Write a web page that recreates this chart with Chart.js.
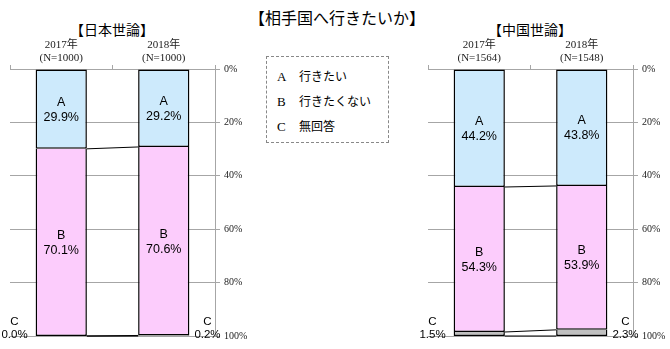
<!DOCTYPE html>
<html>
<head>
<meta charset="utf-8">
<script src="https://cdn.jsdelivr.net/npm/chart.js@4"></script>
<style>
  html, body { margin: 0; padding: 0; background: #fff; }
  body { width: 670px; height: 349px; position: relative; overflow: hidden;
         font-family: "Noto Sans CJK JP", sans-serif; color: #000; }
  .title { position: absolute; white-space: nowrap; transform: translate(-50%, -50%); line-height: 1; }
  .main { font-size: 16px; left: 337px; top: 17px; }
  .sub { font-size: 14px; top: 29px; }
  .box { position: absolute; left: 266px; top: 56px; width: 123px; height: 87px;
         border: 1px dashed #888; box-sizing: border-box; }
  .row { position: absolute; left: 10px; font-size: 12px; line-height: 1; white-space: nowrap; }
  .row b { font-family: "Liberation Serif", serif; font-weight: normal; font-size: 13px;
           display: inline-block; width: 22px; }
  canvas { position: absolute; top: 0; }
</style>
</head>
<body>
<div class="title main">【相手国へ行きたいか】</div>
<div class="title sub" style="left:112px">【日本世論】</div>
<div class="title sub" style="left:530px">【中国世論】</div>
<div class="box" id="legend"></div>
<canvas id="jp" style="left:0"></canvas>
<canvas id="cn" style="left:418px"></canvas>
<script>
// Survey years and sample sizes
const jpLabels = [['2017年', '(N=1000)'], ['2018年', '(N=1000)']];
const cnLabels = [['2017年', '(N=1564)'], ['2018年', '(N=1548)']];

// Answer codes and their meaning
const answerCodes = ['A', 'B', 'C'];
const answerNames = ['行きたい', '行きたくない', '無回答'];

// Japanese public opinion (%)
const jpWant = [29.9, 29.2];
const jpNotWant = [70.1, 70.6];
const jpNoAnswer = [0.0, 0.2];

// Chinese public opinion (%)
const cnWant = [44.2, 43.8];
const cnNotWant = [54.3, 53.9];
const cnNoAnswer = [1.5, 2.3];

// Percentage axis
const yMin = 0, yMax = 100, yStep = 20;

const fillColors = ['#cdeafc', '#fcccfc', '#c0c0c0'];
const gridGray = '#a6a6a6';
const serif = '"Liberation Serif", "Noto Sans CJK JP", serif';
const sans = '"Liberation Sans", Arial, sans-serif';

// legend box
const legend = document.getElementById('legend');
answerCodes.forEach((c, i) => {
  const r = document.createElement('div');
  r.className = 'row';
  r.style.top = (13 + i * 25) + 'px';
  r.innerHTML = '<b>' + c + '</b>' + answerNames[i];
  legend.appendChild(r);
});

// connector lines between neighbouring bars and value labels
const barDecor = {
  id: 'barDecor',
  afterDatasetsDraw(chart) {
    const ctx = chart.ctx;
    const ys = chart.scales.y;
    const sets = chart.data.datasets;
    const bars = chart.getDatasetMeta(0).data;
    const b0 = bars[0], b1 = bars[1];
    ctx.save();
    // connectors at each cumulative boundary
    ctx.strokeStyle = '#000';
    ctx.lineWidth = 1;
    let c0 = 0, c1 = 0;
    sets.forEach(ds => {
      c0 += ds.data[0]; c1 += ds.data[1];
      ctx.beginPath();
      ctx.moveTo(b0.x + b0.width / 2, ys.getPixelForValue(Math.min(c0, 100)));
      ctx.lineTo(b1.x - b1.width / 2, ys.getPixelForValue(Math.min(c1, 100)));
      ctx.stroke();
    });
    // labels
    ctx.fillStyle = '#000';
    sets.forEach((ds, i) => {
      const meta = chart.getDatasetMeta(i);
      meta.data.forEach((el, j) => {
        const v = ds.data[j];
        const txt = v.toFixed(1) + '%';
        if (i < 2) {
          ctx.font = '12.5px ' + sans;
          ctx.textAlign = 'center';
          ctx.textBaseline = 'middle';
          const cy = (el.y + el.base) / 2;
          ctx.fillText(answerCodes[i], el.x, cy - 7);
          ctx.fillText(txt, el.x, cy + 8);
        } else {
          ctx.font = '11.5px ' + sans;
          ctx.textBaseline = 'alphabetic';
          ctx.textAlign = 'center';
          const base = ys.getPixelForValue(100);
          const w = ctx.measureText(txt).width;
          const cx = j === 0
            ? el.x - el.width / 2 - 8 - w / 2
            : el.x + el.width / 2 + 5 + w / 2;
          ctx.fillText(txt, cx, base + 2);
          ctx.fillText(answerCodes[i], cx, base - 11);
        }
      });
    });
    ctx.restore();
  }
};

function makeChart(id, labels, want, notWant, noAnswer, width, axisW) {
  const cv = document.getElementById(id);
  cv.width = width; cv.height = 349;
  cv.style.width = width + 'px'; cv.style.height = '349px';
  const series = [want, notWant, noAnswer];
  return new Chart(cv, {
    type: 'bar',
    data: {
      labels: labels,
      datasets: series.map((d, i) => ({
        label: answerCodes[i],
        data: d,
        backgroundColor: fillColors[i],
        borderColor: '#000',
        // shared edges between stacked segments are drawn once
        borderWidth: { top: i === 0 ? 1.5 : 0, bottom: 1.5, left: 1.5, right: 1.5 },
        borderSkipped: false,
        barPercentage: 0.5,
        categoryPercentage: 1
      }))
    },
    options: {
      responsive: false,
      animation: false,
      layout: { padding: { left: 10, right: 0, top: 0, bottom: 13 } },
      plugins: { legend: { display: false }, tooltip: { enabled: false }, title: { display: false } },
      scales: {
        x: {
          position: 'top',
          stacked: true,
          offset: true,
          afterFit(s) { s.height = 69; },
          grid: { offset: true, drawOnChartArea: false, tickLength: 4, color: gridGray, lineWidth: 1 },
          border: { display: true, color: gridGray, width: 1 },
          ticks: { font: { family: serif, size: 11 }, color: '#222', padding: 0, maxRotation: 0 }
        },
        y: {
          position: 'right',
          stacked: true,
          reverse: true,
          min: yMin, max: yMax,
          afterFit(s) { s.width = axisW; },
          grid: { color: gridGray, tickLength: 5, lineWidth: 1 },
          border: { display: true, color: gridGray, width: 1 },
          ticks: { stepSize: yStep, font: { family: serif, size: 10 }, color: '#222', padding: 4,
                   callback: v => v + '%' }
        }
      }
    },
    plugins: [barDecor]
  });
}

makeChart('jp', jpLabels, jpWant, jpNotWant, jpNoAnswer, 260, 45);
makeChart('cn', cnLabels, cnWant, cnNotWant, cnNoAnswer, 252, 37);
</script>
</body>
</html>
